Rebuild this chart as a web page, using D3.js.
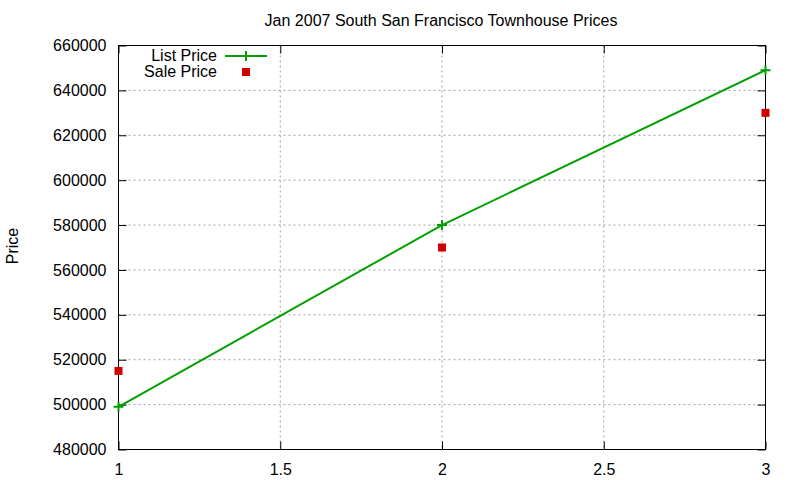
<!DOCTYPE html>
<html><head><meta charset="utf-8">
<script src="https://cdn.jsdelivr.net/npm/d3@7"></script>
<style>body{margin:0;background:#fff}svg{display:block}text{font-family:"Liberation Sans",Arial,sans-serif;}</style>
</head><body>
<svg id="c" width="800" height="480"></svg>
<script>
const xs = [1, 2, 3];
const listPrice = [499000, 580000, 649000];
const salePrice = [515000, 570000, 630000];
const xTicks = [1, 1.5, 2, 2.5, 3];
const yTicks = [480000, 500000, 520000, 540000, 560000, 580000, 600000, 620000, 640000, 660000];
const title = "Jan 2007 South San Francisco Townhouse Prices";

const svg = d3.select("#c");
const L = 118.5, R = 765.5, T = 45.5, B = 449.5;
const x = d3.scaleLinear().domain([1, 3]).range([L, R]);
const y = d3.scaleLinear().domain([480000, 660000]).range([B, T]);
const fs = 16;

// grid
const g = svg.append("g");
xTicks.forEach(t => {
  if (t > 1 && t < 3) g.append("line").attr("x1", x(t)).attr("x2", x(t)).attr("y1", T).attr("y2", B)
    .attr("stroke", "#a0a0a0").attr("stroke-dasharray", "2,3");
});
yTicks.forEach(t => {
  if (t > 480000 && t < 660000) g.append("line").attr("y1", y(t)).attr("y2", y(t)).attr("x1", L).attr("x2", R)
    .attr("stroke", "#a0a0a0").attr("stroke-dasharray", "2,3");
});

// axes via d3 (ticks inside, mirrored)
const ax = svg.append("g");
ax.append("g").attr("transform", `translate(${L},0)`)
  .call(d3.axisLeft(y).tickValues(yTicks).tickSize(-8).tickPadding(12).tickFormat(d3.format("d")))
  .call(s => { s.select(".domain").remove(); s.selectAll("text").attr("font-size", fs).attr("fill", "#000").attr("font-family", "Liberation Sans, Arial, sans-serif"); });
ax.append("g").attr("transform", `translate(${R},0)`)
  .call(d3.axisRight(y).tickValues(yTicks).tickSize(-8).tickFormat(""))
  .call(s => s.select(".domain").remove());
ax.append("g").attr("transform", `translate(0,${B})`)
  .call(d3.axisBottom(x).tickValues(xTicks).tickSize(-8).tickPadding(14).tickFormat(d => d))
  .call(s => { s.select(".domain").remove(); s.selectAll("text").attr("font-size", fs).attr("fill", "#000").attr("font-family", "Liberation Sans, Arial, sans-serif"); });
ax.append("g").attr("transform", `translate(0,${T})`)
  .call(d3.axisTop(x).tickValues(xTicks).tickSize(-8).tickFormat(""))
  .call(s => s.select(".domain").remove());
ax.selectAll(".tick line").attr("stroke", "#000");

svg.append("rect").attr("x", L).attr("y", T).attr("width", R - L).attr("height", B - T)
  .attr("fill", "none").attr("stroke", "#000").attr("stroke-width", 1);

// title & y label
svg.append("text").attr("x", 441).attr("y", 26).attr("text-anchor", "middle").attr("font-size", fs).text(title);
svg.append("text").attr("transform", "translate(18,246) rotate(-90)").attr("text-anchor", "middle").attr("font-size", fs).text("Price");

const green = "#00a000", red = "#d00000";
// list line
const pts = xs.map((d, i) => [d, listPrice[i]]);
svg.append("path").attr("d", d3.line().x(d => x(d[0])).y(d => y(d[1]))(pts))
  .attr("fill", "none").attr("stroke", green).attr("stroke-width", 2);
pts.forEach(p => {
  svg.append("path").attr("d", `M${x(p[0]) - 5},${y(p[1])}h10M${x(p[0])},${y(p[1]) - 5}v10`)
    .attr("stroke", green).attr("stroke-width", 2);
});
// sale squares
xs.forEach((d, i) => {
  svg.append("rect").attr("x", x(d) - 4).attr("y", y(salePrice[i]) - 4).attr("width", 8).attr("height", 8).attr("fill", red);
});

// legend
svg.append("text").attr("x", 217).attr("y", 61).attr("text-anchor", "end").attr("font-size", fs).text("List Price");
svg.append("line").attr("x1", 225).attr("x2", 267).attr("y1", 56).attr("y2", 56).attr("stroke", green).attr("stroke-width", 2);
svg.append("path").attr("d", `M${241},56h10M${246},51v10`).attr("stroke", green).attr("stroke-width", 2);
svg.append("text").attr("x", 217).attr("y", 77).attr("text-anchor", "end").attr("font-size", fs).text("Sale Price");
svg.append("rect").attr("x", 242).attr("y", 68).attr("width", 8).attr("height", 8).attr("fill", red);
</script>
</body></html>
